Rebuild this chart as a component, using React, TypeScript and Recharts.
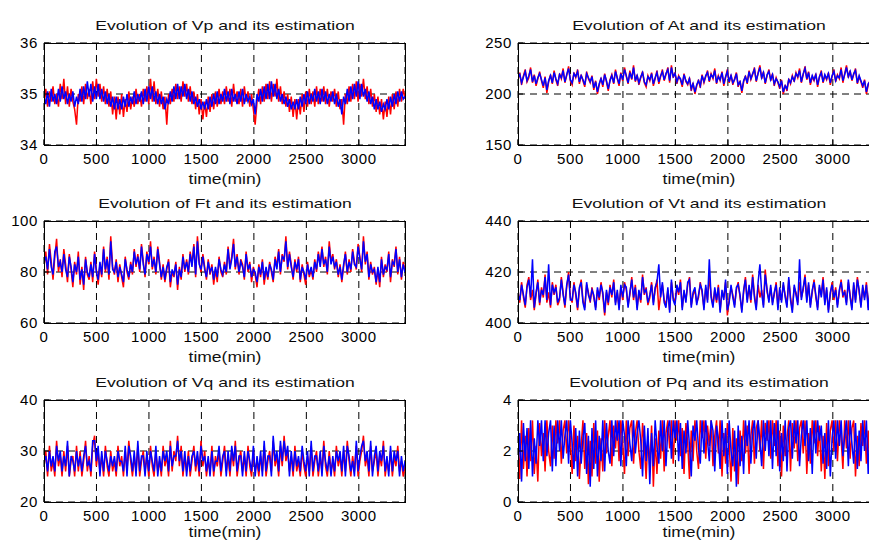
import { LineChart, Line, XAxis, YAxis, CartesianGrid } from "recharts"

// sample period of the simulation, minutes
const step = 17.2
const xTicks = [0, 500, 1000, 1500, 2000, 2500, 3000]

// Vp: measured (red) and estimated (blue)
const vpMeas = [
  34.8, 35.1, 34.75, 35.05, 34.85, 35.15, 34.8, 35.0, 34.75, 35.2, 34.9, 35.3, 34.8, 35.15, 34.75, 35.1, 34.85, 34.7, 34.4, 35.0,
  34.85, 35.15, 34.8, 35.2, 34.9, 35.1, 34.8, 35.25, 34.9, 35.3, 34.95, 35.2, 34.85, 35.15, 34.8, 35.1, 34.75, 35.05, 34.6, 34.95,
  34.5, 34.95, 34.6, 35.0, 34.55, 34.9, 34.65, 35.05, 34.7, 34.95, 34.75, 35.1, 34.8, 35.0, 34.75, 35.1, 34.85, 35.15, 34.8, 35.3,
  34.85, 35.25, 34.8, 35.1, 34.75, 35.05, 34.7, 34.95, 34.4, 35.0, 34.8, 35.1, 34.85, 35.2, 34.9, 35.15, 34.85, 35.25, 34.95, 35.2,
  34.85, 35.15, 34.8, 35.05, 34.7, 35.0, 34.6, 34.9, 34.5, 34.85, 34.55, 34.95, 34.65, 35.0, 34.7, 35.05, 34.75, 35.1, 34.8, 35.05,
  34.8, 35.15, 34.85, 35.1, 34.75, 35.2, 34.85, 35.05, 34.8, 35.1, 34.75, 35.15, 34.85, 35.05, 34.75, 35.0, 34.7, 34.4, 34.85, 35.1,
  34.8, 35.15, 34.85, 35.2, 34.9, 35.25, 34.85, 35.2, 34.95, 35.3, 34.85, 35.15, 34.8, 35.05, 34.75, 35.0, 34.65, 34.95, 34.55, 34.9,
  34.5, 34.9, 34.6, 35.0, 34.65, 35.05, 34.75, 35.1, 34.8, 35.05, 34.75, 35.15, 34.8, 35.1, 34.85, 35.15, 34.8, 35.1, 34.75, 35.05,
  34.85, 35.1, 34.75, 35.05, 34.7, 34.9, 34.4, 35.0, 34.8, 35.15, 34.85, 35.2, 34.9, 35.25, 34.85, 35.2, 34.95, 35.3, 34.9, 35.15,
  34.8, 35.1, 34.75, 35.0, 34.65, 34.95, 34.6, 34.9, 34.5, 34.85, 34.55, 34.95, 34.6, 35.0, 34.7, 35.05, 34.75, 35.1, 34.85, 35.1,
  34.9,
]
const vpEst = [
  34.95, 34.8, 35.05, 34.75, 35.1, 34.85, 35.0, 34.8, 35.1, 34.85, 35.15, 34.9, 35.05, 34.8, 35.0, 34.85, 35.05, 34.75, 34.95, 34.8,
  35.1, 34.85, 35.15, 34.9, 35.25, 34.95, 35.2, 34.85, 35.15, 34.9, 35.2, 34.9, 35.1, 34.85, 35.05, 34.8, 35.0, 34.75, 34.95, 34.7,
  34.95, 34.7, 34.9, 34.7, 34.95, 34.75, 35.0, 34.75, 34.95, 34.8, 35.05, 34.8, 35.0, 34.85, 35.05, 34.8, 35.1, 34.85, 35.15, 34.9,
  35.15, 34.85, 35.05, 34.8, 35.0, 34.8, 34.95, 34.7, 34.9, 34.8, 35.05, 34.85, 35.15, 34.9, 35.2, 34.9, 35.15, 34.95, 35.2, 34.9,
  35.1, 34.85, 35.05, 34.8, 34.95, 34.75, 34.9, 34.7, 34.85, 34.7, 34.9, 34.7, 34.95, 34.75, 35.0, 34.8, 35.05, 34.8, 35.0, 34.85,
  35.1, 34.85, 35.05, 34.8, 35.1, 34.85, 35.0, 34.8, 35.05, 34.85, 35.1, 34.8, 35.0, 34.85, 34.95, 34.8, 34.9, 34.6, 35.0, 34.85,
  35.1, 34.85, 35.15, 34.9, 35.2, 34.9, 35.25, 34.95, 35.2, 34.9, 35.1, 34.85, 35.0, 34.8, 34.95, 34.75, 34.9, 34.7, 34.85, 34.7,
  34.9, 34.7, 34.95, 34.75, 35.0, 34.8, 35.05, 34.8, 35.0, 34.85, 35.1, 34.85, 35.05, 34.8, 35.1, 34.85, 35.05, 34.8, 35.0, 34.85,
  35.05, 34.8, 35.0, 34.75, 34.9, 34.6, 34.95, 34.8, 35.1, 34.85, 35.15, 34.9, 35.2, 34.95, 35.25, 34.9, 35.2, 34.95, 35.1, 34.85,
  35.05, 34.8, 34.95, 34.7, 34.9, 34.7, 34.85, 34.65, 34.8, 34.7, 34.9, 34.7, 34.95, 34.75, 35.0, 34.8, 35.05, 34.85, 35.05, 34.9,
  34.95,
]

// At
const atMeas = [
  214, 221, 209, 218, 224, 212, 216, 226, 211, 219, 208, 215, 222, 213, 206, 217, 201, 212, 219, 210,
  223, 214, 208, 220, 215, 225, 211, 218, 227, 213, 209, 221, 216, 224, 210, 219, 213, 207, 222, 215,
  211, 218, 204, 213, 200, 209, 216, 207, 220, 212, 203, 214, 219, 210, 224, 215, 208, 221, 213, 226,
  217, 210, 223, 214, 228, 212, 219, 209, 216, 222, 211, 207, 218, 213, 221, 208, 215, 223, 210, 217,
  224, 213, 219, 226, 211, 228, 216, 221, 210, 218, 214, 207, 220, 212, 209, 216, 203, 211, 200, 208,
  214, 206, 219, 211, 217, 223, 212, 220, 215, 225, 210, 218, 213, 222, 208, 216, 224, 211, 219, 209,
  215, 221, 207, 213, 201, 212, 218, 210, 223, 214, 219, 226, 212, 221, 228, 215, 222, 210, 218, 224,
  213, 220, 208, 216, 211, 205, 214, 200, 209, 203, 215, 210, 218, 212, 221, 216, 225, 211, 219, 227,
  214, 222, 209, 217, 213, 220, 207, 216, 223, 211, 218, 214, 221, 209, 217, 224, 212, 219, 215, 226,
  211, 220, 228, 216, 223, 213, 219, 225, 210, 217, 212, 206, 214, 200, 209, 213, 204, 218, 211, 221,
  215,
]
const atEst = [
  216, 219, 211, 217, 222, 213, 218, 224, 212, 218, 210, 216, 220, 214, 208, 216, 204, 213, 218, 211,
  221, 215, 210, 219, 216, 223, 212, 219, 225, 214, 211, 220, 217, 222, 212, 218, 214, 209, 220, 216,
  212, 217, 206, 212, 202, 210, 215, 209, 219, 213, 205, 213, 218, 211, 222, 216, 210, 220, 214, 224,
  218, 211, 221, 215, 226, 213, 218, 211, 217, 221, 212, 209, 217, 214, 220, 210, 216, 221, 212, 218,
  222, 214, 220, 224, 213, 226, 217, 220, 212, 217, 215, 209, 219, 213, 210, 215, 205, 210, 202, 209,
  213, 208, 218, 212, 218, 221, 213, 219, 216, 223, 211, 217, 214, 221, 210, 217, 222, 212, 218, 211,
  214, 220, 209, 212, 203, 213, 217, 211, 222, 215, 220, 224, 213, 220, 226, 216, 221, 211, 219, 222,
  214, 219, 210, 215, 212, 207, 213, 202, 208, 205, 214, 211, 217, 213, 220, 217, 223, 212, 220, 225,
  215, 221, 211, 218, 214, 219, 209, 217, 221, 212, 219, 215, 220, 211, 218, 222, 213, 218, 216, 224,
  213, 219, 226, 217, 222, 214, 220, 223, 211, 218, 213, 208, 213, 202, 210, 212, 206, 217, 212, 219,
  216,
]

// Ft
const ftMeas = [
  82, 88, 79, 91, 84, 77, 86, 93, 80, 85, 78, 89, 83, 76, 87, 81, 74, 84, 79, 88,
  75, 82, 73, 86, 79, 77, 84, 76, 88, 81, 75, 83, 78, 90, 80, 86, 77, 94, 82, 79,
  85, 76, 83, 78, 74, 86, 80, 77, 84, 79, 89, 82, 87, 80, 91, 84, 78, 88, 83, 92,
  81, 86, 79, 90, 84, 77, 83, 76, 81, 85, 74, 80, 78, 84, 73, 82, 77, 87, 80, 85,
  79, 88, 83, 91, 78, 94, 84, 80, 87, 82, 77, 85, 79, 83, 75, 81, 76, 86, 80, 78,
  84, 79, 90, 82, 86, 93, 81, 87, 79, 85, 83, 77, 88, 80, 84, 76, 82, 79, 74, 83,
  78, 85, 75, 81, 77, 84, 80, 76, 86, 82, 89, 79, 87, 84, 94, 81, 88, 83, 77, 85,
  80, 86, 76, 83, 79, 75, 84, 78, 81, 77, 85, 80, 88, 83, 90, 82, 86, 79, 92, 84,
  87, 81, 85, 78, 83, 76, 82, 88, 79, 85, 80, 89, 84, 81, 91, 86, 80, 94, 83, 88,
  77, 84, 79, 82, 75, 81, 74, 86, 78, 83, 80, 88, 76, 85, 82, 90, 79, 86, 77, 84,
  81,
]
const ftEst = [
  84, 86, 81, 89, 82, 79, 88, 90, 82, 84, 80, 87, 81, 78, 86, 82, 76, 83, 80, 86,
  77, 81, 75, 85, 80, 78, 83, 78, 87, 80, 77, 84, 79, 89, 81, 85, 79, 92, 81, 80,
  84, 78, 82, 79, 76, 85, 81, 78, 83, 80, 88, 83, 86, 81, 90, 83, 79, 87, 84, 90,
  82, 85, 80, 89, 83, 78, 82, 77, 82, 84, 76, 81, 79, 83, 75, 81, 78, 86, 81, 84,
  80, 87, 82, 90, 79, 92, 83, 81, 86, 81, 78, 84, 80, 82, 77, 82, 78, 85, 81, 79,
  83, 80, 89, 81, 85, 91, 82, 86, 80, 84, 82, 78, 87, 81, 83, 78, 81, 80, 76, 82,
  79, 84, 77, 82, 78, 83, 81, 77, 85, 81, 88, 80, 86, 85, 92, 82, 87, 82, 78, 84,
  81, 85, 77, 82, 80, 77, 83, 79, 82, 78, 84, 81, 87, 82, 89, 83, 85, 80, 90, 83,
  86, 82, 84, 79, 82, 77, 83, 87, 80, 84, 81, 88, 83, 82, 90, 85, 81, 92, 84, 87,
  78, 83, 80, 81, 76, 82, 76, 85, 79, 82, 81, 87, 78, 84, 83, 89, 80, 85, 78, 83,
  80,
]

// Vt
const vtMeas = [
  412, 408, 416, 410, 406, 415, 418, 409, 413, 405, 411, 417, 407, 414, 410, 419, 408, 412, 406, 416,
  411, 415, 407, 409, 418, 412, 406, 414, 420, 410, 408, 416, 411, 405, 413, 417, 409, 406, 415, 412,
  408, 414, 410, 406, 413, 409, 416, 411, 403, 412, 407, 415, 410, 417, 408, 412, 406, 414, 409, 416,
  413, 407, 411, 418, 409, 415, 406, 412, 408, 419, 411, 414, 407, 410, 416, 408, 413, 417, 405, 411,
  415, 409, 407, 413, 405, 416, 410, 408, 414, 411, 417, 406, 412, 409, 415, 418, 407, 411, 413, 408,
  410, 416, 412, 406, 414, 409, 418, 411, 407, 413, 408, 415, 405, 412, 410, 416, 403, 409, 414, 411,
  407, 413, 416, 410, 405, 412, 418, 409, 414, 408, 419, 411, 406, 415, 410, 413, 407, 421, 412, 409,
  414, 408, 411, 416, 406, 413, 409, 415, 411, 407, 417, 410, 405, 414, 412, 408, 416, 410, 413, 419,
  409, 415, 407, 412, 417, 410, 406, 414, 411, 418, 408, 413, 405, 411, 416, 409, 414, 407, 412, 417,
  410, 413, 408, 416, 411, 406, 415, 409, 418, 412, 407, 414, 410, 416, 406, 413, 409, 415, 411, 408,
  412,
]
const vtEst = [
  411, 409, 415, 411, 407, 414, 417, 410, 425, 406, 412, 416, 408, 413, 411, 418, 409, 423, 407, 415,
  412, 414, 408, 410, 417, 411, 407, 415, 419, 409, 409, 415, 412, 406, 414, 416, 408, 405, 416, 411,
  409, 413, 411, 405, 414, 410, 415, 412, 404, 413, 408, 414, 411, 416, 407, 413, 405, 415, 410, 415,
  414, 406, 412, 417, 410, 414, 405, 413, 409, 418, 412, 413, 408, 411, 415, 407, 414, 416, 423, 410,
  416, 408, 406, 414, 404, 417, 409, 407, 415, 412, 416, 405, 413, 408, 416, 417, 406, 412, 414, 407,
  411, 415, 413, 405, 415, 408, 425, 410, 406, 414, 409, 414, 404, 413, 409, 417, 405, 408, 415, 410,
  406, 414, 415, 411, 404, 413, 417, 408, 415, 409, 418, 410, 405, 416, 423, 412, 406, 419, 413, 408,
  415, 407, 412, 415, 405, 414, 408, 416, 410, 406, 418, 409, 404, 415, 411, 407, 425, 409, 414, 418,
  408, 416, 406, 413, 416, 411, 405, 415, 410, 417, 407, 414, 404, 412, 415, 410, 413, 406, 413, 416,
  411, 412, 407, 417, 410, 405, 416, 408, 417, 413, 406, 415, 409, 415, 405, 414, 408, 416, 410, 407,
  413,
]

// Vq
const vqMeas = [
  27, 30, 25, 31, 26, 28, 25, 32, 27, 29, 25, 30, 26, 31, 25, 28, 29, 25, 31, 26,
  30, 25, 28, 32, 26, 29, 25, 31, 33, 27, 30, 26, 29, 25, 31, 27, 25, 30, 26, 28,
  25, 31, 27, 29, 25, 30, 26, 32, 28, 25, 29, 26, 31, 25, 28, 30, 26, 29, 25, 31,
  27, 25, 30, 26, 28, 25, 31, 27, 29, 25, 32, 26, 30, 28, 33, 27, 31, 25, 29, 26,
  30, 25, 28, 31, 26, 29, 25, 32, 27, 30, 25, 28, 26, 31, 25, 29, 27, 30, 25, 28,
  31, 26, 29, 25, 30, 27, 32, 25, 28, 30, 26, 29, 25, 31, 27, 25, 30, 26, 28, 25,
  29, 26, 31, 25, 28, 30, 26, 32, 27, 29, 25, 31, 27, 33, 28, 30, 26, 29, 25, 31,
  26, 28, 25, 30, 27, 25, 29, 26, 31, 25, 28, 30, 25, 29, 26, 32, 27, 25, 30, 26,
  28, 25, 31, 27, 29, 25, 30, 26, 32, 28, 25, 29, 26, 31, 25, 28, 30, 33, 27, 29,
  25, 31, 26, 28, 30, 25, 29, 27, 32, 25, 28, 26, 30, 25, 29, 27, 31, 26, 28, 25,
  27,
]
const vqEst = [
  28, 29, 26, 30, 27, 29, 26, 31, 28, 30, 26, 29, 27, 32, 25, 29, 28, 26, 30, 27,
  29, 26, 29, 31, 27, 28, 26, 32, 32, 28, 31, 25, 30, 26, 30, 28, 26, 29, 27, 29,
  26, 30, 28, 28, 26, 31, 25, 31, 29, 26, 30, 25, 32, 26, 29, 29, 25, 30, 26, 30,
  28, 26, 31, 25, 29, 26, 30, 28, 30, 26, 31, 27, 29, 29, 32, 28, 30, 26, 30, 25,
  29, 26, 29, 30, 27, 30, 26, 31, 28, 29, 26, 29, 25, 30, 26, 28, 28, 31, 26, 29,
  30, 25, 30, 26, 31, 28, 31, 26, 29, 29, 25, 30, 26, 30, 28, 26, 31, 25, 29, 26,
  30, 25, 32, 26, 29, 29, 25, 33, 28, 30, 26, 32, 28, 32, 29, 31, 25, 30, 26, 30,
  27, 29, 26, 31, 28, 26, 30, 25, 32, 26, 29, 29, 26, 30, 25, 31, 28, 26, 29, 25,
  29, 26, 30, 28, 30, 26, 31, 25, 31, 29, 26, 28, 25, 32, 26, 29, 31, 32, 28, 30,
  26, 32, 25, 29, 31, 26, 30, 28, 31, 26, 29, 25, 31, 26, 30, 28, 30, 25, 29, 26,
  28,
]

// Pq
const pqMeas = [
  2.4, 0.9, 3.2, 1.3, 2.6, 1.0, 2.9, 1.6, 3.2, 1.1, 2.2, 0.8, 3.1, 1.8, 2.7, 1.2, 3.2, 2.0, 1.4, 3.0,
  1.7, 3.2, 2.3, 3.2, 1.5, 2.8, 3.2, 1.9, 3.2, 2.5, 1.1, 3.0, 1.6, 2.6, 0.9, 2.2, 3.2, 1.3, 2.7, 0.7,
  2.4, 1.0, 3.1, 1.5, 2.8, 0.8, 2.5, 1.2, 3.2, 1.9, 2.6, 3.2, 1.4, 3.0, 2.1, 3.2, 1.6, 3.2, 2.3, 1.1,
  3.2, 1.8, 2.9, 3.2, 1.5, 2.7, 3.2, 2.0, 1.3, 3.1, 2.2, 0.9, 2.6, 1.4, 3.0, 0.6, 2.5, 1.1, 2.8, 1.7,
  3.2, 1.2, 2.7, 3.2, 2.1, 3.2, 1.5, 3.2, 2.4, 3.2, 1.8, 2.9, 1.1, 3.1, 2.3, 0.9, 2.8, 1.6, 3.2, 2.0,
  1.3, 3.2, 2.5, 3.2, 1.7, 3.0, 2.2, 3.2, 1.4, 2.6, 3.2, 1.9, 3.2, 1.0, 2.7, 1.5, 3.1, 2.3, 0.8, 2.9,
  1.2, 2.5, 0.7, 2.8, 1.6, 3.2, 1.9, 3.0, 1.1, 2.6, 3.2, 1.5, 2.9, 3.2, 2.0, 3.2, 1.3, 3.1, 2.4, 3.2,
  1.7, 3.2, 2.2, 3.2, 1.4, 2.8, 1.0, 3.0, 1.8, 2.5, 3.2, 1.2, 3.1, 2.1, 3.2, 1.6, 2.9, 3.2, 1.9, 3.2,
  1.1, 2.7, 1.5, 3.2, 2.3, 3.2, 1.8, 3.0, 1.2, 2.6, 0.9, 3.1, 1.4, 2.8, 3.2, 2.0, 3.2, 1.6, 3.2, 2.5,
  1.3, 3.2, 2.1, 3.2, 1.7, 2.9, 3.2, 1.0, 2.6, 1.4, 3.1, 2.2, 3.2, 1.5, 2.8, 0.9, 2.4, 1.8, 3.0, 1.5,
  2.4,
]
const pqEst = [
  1.3, 2.7, 0.8, 3.1, 1.6, 2.9, 1.3, 3.2, 1.0, 2.5, 1.5, 3.2, 2.2, 3.2, 1.6, 3.2, 1.8, 2.7, 3.2, 1.2,
  3.0, 1.4, 3.2, 2.0, 3.2, 1.7, 2.6, 3.2, 1.5, 3.2, 2.3, 1.3, 2.9, 1.0, 2.8, 1.5, 2.5, 3.1, 1.1, 2.6,
  0.6, 2.9, 1.3, 3.2, 1.0, 2.6, 1.6, 3.2, 1.2, 3.1, 2.0, 1.5, 3.2, 1.8, 3.2, 2.4, 3.2, 1.4, 3.2, 2.6,
  1.4, 3.2, 2.3, 1.6, 3.2, 1.9, 2.7, 3.2, 2.4, 1.0, 3.0, 1.6, 2.9, 0.7, 2.7, 1.4, 3.2, 2.2, 1.5, 3.2,
  2.0, 3.2, 1.4, 2.9, 3.2, 1.7, 3.2, 2.5, 3.2, 1.6, 3.1, 1.3, 2.8, 1.9, 3.2, 2.2, 1.0, 3.0, 2.4, 3.2,
  2.1, 1.5, 3.2, 1.9, 3.2, 2.4, 1.6, 3.2, 2.8, 1.2, 3.0, 2.5, 1.3, 3.2, 1.8, 2.9, 1.1, 3.2, 2.0, 1.4,
  2.8, 0.6, 3.0, 1.4, 2.6, 1.1, 3.2, 2.2, 3.2, 1.5, 2.8, 3.2, 1.7, 3.2, 2.4, 1.4, 3.2, 2.0, 3.2, 1.8,
  3.2, 1.3, 3.1, 1.8, 3.2, 1.2, 2.7, 1.6, 3.2, 1.2, 2.9, 3.2, 1.7, 3.2, 2.3, 3.2, 1.4, 2.6, 3.2, 2.2,
  3.2, 1.6, 2.9, 1.1, 3.2, 1.9, 3.2, 2.4, 3.0, 1.5, 2.7, 1.3, 3.2, 1.0, 2.5, 3.2, 1.7, 3.2, 2.2, 3.2,
  1.8, 2.6, 3.2, 1.4, 3.2, 2.3, 1.5, 3.1, 1.3, 2.8, 1.6, 3.2, 2.0, 3.2, 1.1, 2.7, 1.9, 3.2, 1.4, 2.9,
  2.0,
]

const time = vpMeas.map((_, i) => Math.round(i * step))

const PW = 361
const PH = 102
const font = "'Liberation Sans', Arial, sans-serif"

type PanelProps = {
  left: number
  top: number
  title: string
  meas: number[]
  est: number[]
  yTicks: number[]
}

function Panel({ left, top, title, meas, est, yTicks }: PanelProps) {
  const data = time.map((t, i) => ({ t, meas: meas[i], est: est[i] }))
  const tick = { fill: "#000", fontSize: 15, fontFamily: font, letterSpacing: 0.6 }
  return (
    <>
      <div
        style={{
          position: "absolute",
          left: left + PW / 2,
          top: top - 18,
          transform: "translate(-50%, -50%) scaleX(1.3)",
          whiteSpace: "nowrap",
          fontSize: 13.5,
          color: "#111",
        }}
      >
        {title}
      </div>
      <div style={{ position: "absolute", left: left - 44, top: top - 8 }}>
        <LineChart width={44 + PW + 4} height={8 + PH + 26} data={data} margin={{ top: 8, right: 4, bottom: 0, left: 0 }}>
          <CartesianGrid stroke="#000" strokeDasharray="7 5" />
          <XAxis
            dataKey="t"
            type="number"
            domain={[0, 3440]}
            ticks={xTicks}
            interval={0}
            allowDataOverflow
            axisLine={false}
            stroke="#000"
            tickSize={-5}
            tickMargin={13}
            tick={tick}
            height={26}
          />
          <YAxis
            domain={[yTicks[0], yTicks[2]]}
            ticks={yTicks}
            interval={0}
            allowDataOverflow
            axisLine={false}
            stroke="#000"
            tickSize={-5}
            tickMargin={11}
            tick={tick}
            width={44}
          />
          <Line type="linear" dataKey="meas" stroke="#ff0000" strokeWidth={1.5} dot={false} isAnimationActive={false} />
          <Line type="linear" dataKey="est" stroke="#0000ff" strokeWidth={1.5} dot={false} isAnimationActive={false} />
        </LineChart>
      </div>
      <div
        style={{
          position: "absolute",
          left,
          top,
          width: PW + 1,
          height: PH + 1,
          border: "1.3px solid #000",
          boxSizing: "border-box",
        }}
      />
      <div
        style={{
          position: "absolute",
          left: left + PW / 2,
          top: Math.min(top + PH + 34, 532),
          transform: "translate(-50%, -50%) scaleX(1.25)",
          whiteSpace: "nowrap",
          fontSize: 14,
          color: "#111",
        }}
      >
        time(min)
      </div>
    </>
  )
}

export default function App() {
  return (
    <div
      style={{
        position: "absolute",
        left: 0,
        top: 0,
        width: 869,
        height: 542,
        overflow: "hidden",
        background: "#fff",
        fontFamily: font,
      }}
    >
      <Panel left={44} top={43} title="Evolution of Vp and its estimation" meas={vpMeas} est={vpEst} yTicks={[34, 35, 36]} />
      <Panel left={518} top={43} title="Evolution of At and its estimation" meas={atMeas} est={atEst} yTicks={[150, 200, 250]} />
      <Panel left={44} top={221} title="Evolution of Ft and its estimation" meas={ftMeas} est={ftEst} yTicks={[60, 80, 100]} />
      <Panel left={518} top={221} title="Evolution of Vt and its estimation" meas={vtMeas} est={vtEst} yTicks={[400, 420, 440]} />
      <Panel left={44} top={400} title="Evolution of Vq and its estimation" meas={vqMeas} est={vqEst} yTicks={[20, 30, 40]} />
      <Panel left={518} top={400} title="Evolution of Pq and its estimation" meas={pqMeas} est={pqEst} yTicks={[0, 2, 4]} />
    </div>
  )
}
